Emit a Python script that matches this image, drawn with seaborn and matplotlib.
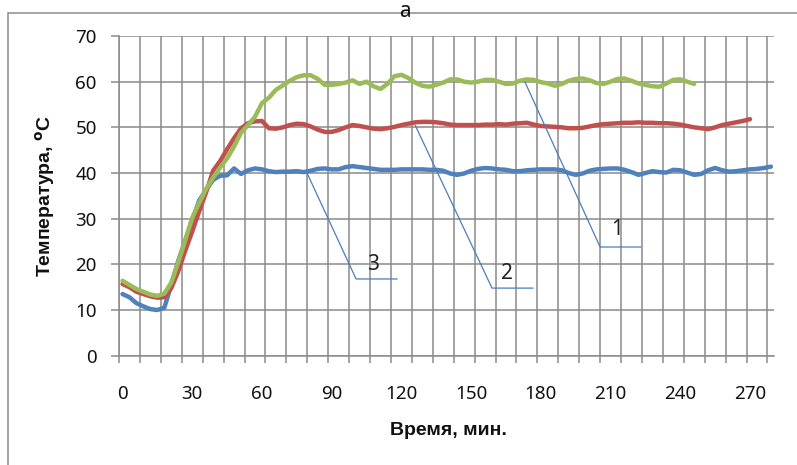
import numpy as np
import pandas as pd
import matplotlib.pyplot as plt
import seaborn as sns
from matplotlib.patches import Rectangle
from matplotlib.ticker import FixedLocator

# Шаг измерений, мин
step = 3

# Кривая 3 (синяя)
temp_3 = [13.5, 12.8, 11.5, 10.8, 10.2, 10.0, 10.5, 15.5, 20.8, 25.2,
          29.5, 34.0, 36.3, 38.5, 39.4, 39.5, 41.0, 39.8, 40.6, 41.0,
          40.8, 40.4, 40.2, 40.3, 40.3, 40.4, 40.2, 40.5, 40.9, 41.0,
          40.8, 40.8, 41.3, 41.5, 41.3, 41.1, 40.9, 40.7, 40.7, 40.7,
          40.8, 40.8, 40.8, 40.8, 40.7, 40.7, 40.5, 39.9, 39.6, 39.9,
          40.5, 40.9, 41.1, 41.0, 40.8, 40.7, 40.4, 40.4, 40.6, 40.7,
          40.8, 40.8, 40.8, 40.6, 40.0, 39.6, 39.9, 40.5, 40.8, 40.9,
          41.0, 41.0, 40.7, 40.2, 39.6, 40.0, 40.4, 40.2, 40.1, 40.7,
          40.6, 40.1, 39.6, 39.8, 40.6, 41.1, 40.6, 40.3, 40.4, 40.6,
          40.8, 40.9, 41.1, 41.4]

# Кривая 2 (красная)
temp_2 = [15.7, 15.0, 14.0, 13.5, 13.0, 12.7, 12.8, 14.8, 18.5, 23.0,
          27.2, 31.6, 35.8, 40.5, 42.6, 45.2, 47.6, 49.8, 50.9, 51.3,
          51.4, 49.8, 49.7, 50.0, 50.5, 50.8, 50.7, 50.2, 49.5, 49.0,
          49.0, 49.4, 50.0, 50.5, 50.3, 50.0, 49.7, 49.6, 49.8, 50.1,
          50.5, 50.8, 51.1, 51.2, 51.2, 51.1, 50.9, 50.6, 50.5, 50.5,
          50.5, 50.5, 50.6, 50.6, 50.7, 50.6, 50.8, 50.9, 51.0, 50.6,
          50.3, 50.2, 50.1, 50.0, 49.8, 49.8, 49.9, 50.2, 50.5, 50.7,
          50.8, 50.9, 51.0, 51.0, 51.1, 51.0, 51.0, 50.9, 50.9, 50.8,
          50.6, 50.3, 50.0, 49.8, 49.6, 50.0, 50.5, 50.8, 51.1, 51.4,
          51.8]

# Кривая 1 (зеленая)
temp_1 = [16.4, 15.5, 14.6, 14.0, 13.4, 13.1, 13.6, 16.0, 20.5, 25.3,
          30.2, 33.5, 36.5, 39.0, 41.2, 43.2, 45.8, 48.8, 50.5, 52.3,
          55.3, 56.5, 58.2, 59.2, 60.2, 61.0, 61.4, 61.4, 60.6, 59.3,
          59.3, 59.5, 59.8, 60.3, 59.5, 60.0, 59.0, 58.4, 59.5, 61.2,
          61.5, 60.8, 59.8, 59.1, 58.9, 59.3, 59.8, 60.5, 60.5, 60.0,
          59.8, 60.0, 60.4, 60.4, 60.0, 59.5, 59.6, 60.2, 60.5, 60.4,
          59.9, 59.6, 59.1, 59.5, 60.2, 60.6, 60.7, 60.3, 59.7, 59.5,
          60.0, 60.6, 60.7, 60.2, 59.6, 59.3, 59.0, 58.9, 59.6, 60.4,
          60.5, 60.0, 59.5]

x_labels = [0, 30, 60, 90, 120, 150, 180, 210, 240, 270]
y_labels = [0, 10, 20, 30, 40, 50, 60, 70]

# Выноски с номерами кривых
curve_names = ['1', '2', '3']
leader_x = [[173.2, 205.5, 223.1], [125.9, 159.0, 176.7], [79.4, 100.5, 118.2]]
leader_y = [[59.9, 23.8, 23.8], [50.5, 14.8, 14.8], [40.0, 16.8, 16.8]]
label_x = [212.8, 165.5, 107.8]
label_y = [27.7, 18.1, 20.0]

colors = {'3': '#4F81BD', '2': '#C0504D', '1': '#9BBB59'}
grid_color = '#8A8A8A'

frames = []
for name, vals in [('3', temp_3), ('2', temp_2), ('1', temp_1)]:
    frames.append(pd.DataFrame({'t': np.arange(len(vals)) * step, 'T': vals, 'curve': name}))
data = pd.concat(frames, ignore_index=True)

sns.set_theme(style="white")
plt.rcParams['font.family'] = ['Noto Sans', 'DejaVu Sans']

fig = plt.figure(figsize=(7.97, 4.65), dpi=100)
ax = fig.add_axes([119 / 797, 1 - 355.7 / 465, 655.4 / 797, 319.7 / 465])

sns.lineplot(data=data, x='t', y='T', hue='curve', hue_order=['3', '2', '1'],
             palette=colors, lw=3.2, estimator=None, sort=False, legend=False, ax=ax)

# Выноски
for name, lx, ly, tx, ty in zip(curve_names, leader_x, leader_y, label_x, label_y):
    ax.plot(lx, ly, color='#4A7EBB', lw=0.9, zorder=5)
    ax.text(tx, ty, name, fontsize=15, ha='center', va='center', color='#222222', zorder=6)

# Оси в стиле Excel: категории через 3 мин, сетка через 3 категории
ax.set_xlim(-1.5, 280.5)
ax.set_ylim(0, 70)
ax.xaxis.set_major_locator(FixedLocator(np.arange(-1.5, 280, 9)))
ax.xaxis.set_minor_locator(FixedLocator(x_labels))
ax.set_xticklabels([], minor=False)
ax.set_xticklabels([str(v) for v in x_labels], minor=True)
ax.tick_params(axis='x', which='major', length=5, width=1.1, color=grid_color, direction='out', bottom=True)
ax.tick_params(axis='x', which='minor', length=0, pad=21, labelsize=13.5, labelcolor='#111111')
ax.set_yticks(y_labels)
ax.set_yticklabels([str(v) for v in y_labels])
ax.tick_params(axis='y', length=6, width=1.1, color=grid_color, direction='out', left=True,
               pad=10, labelsize=13.5, labelcolor='#111111')
ax.grid(True, which='major', color=grid_color, lw=1.1)
ax.set_axisbelow(True)
for side in ['top', 'right']:
    ax.spines[side].set_visible(False)
for side in ['left', 'bottom']:
    ax.spines[side].set_color(grid_color)
    ax.spines[side].set_linewidth(1.1)
ax.set_xlabel('')
ax.set_ylabel('')

bold_font = ['Liberation Sans', 'DejaVu Sans']
fig.text(45 / 797, 1 - 196 / 465, r'Температура, $^{\mathbf{o}}$C', rotation=90,
         ha='center', va='center', fontsize=14, fontweight='bold', family=bold_font, color='#111111')
fig.text(448 / 797, 1 - 430 / 465, 'Время, мин.', ha='center', va='center',
         fontsize=14, fontweight='bold', family=bold_font, color='#111111')
fig.text(405 / 797, 1 - 1 / 465, 'а', ha='center', va='top', fontsize=15, color='#111111')

# Рамка области диаграммы
fig.add_artist(Rectangle((8 / 797, -0.2), 2.0, 1.2 - 13 / 465, transform=fig.transFigure,
                         fill=False, edgecolor='#8C8C8C', lw=1.1, clip_on=False))

fig.savefig('out.png', dpi=100)
